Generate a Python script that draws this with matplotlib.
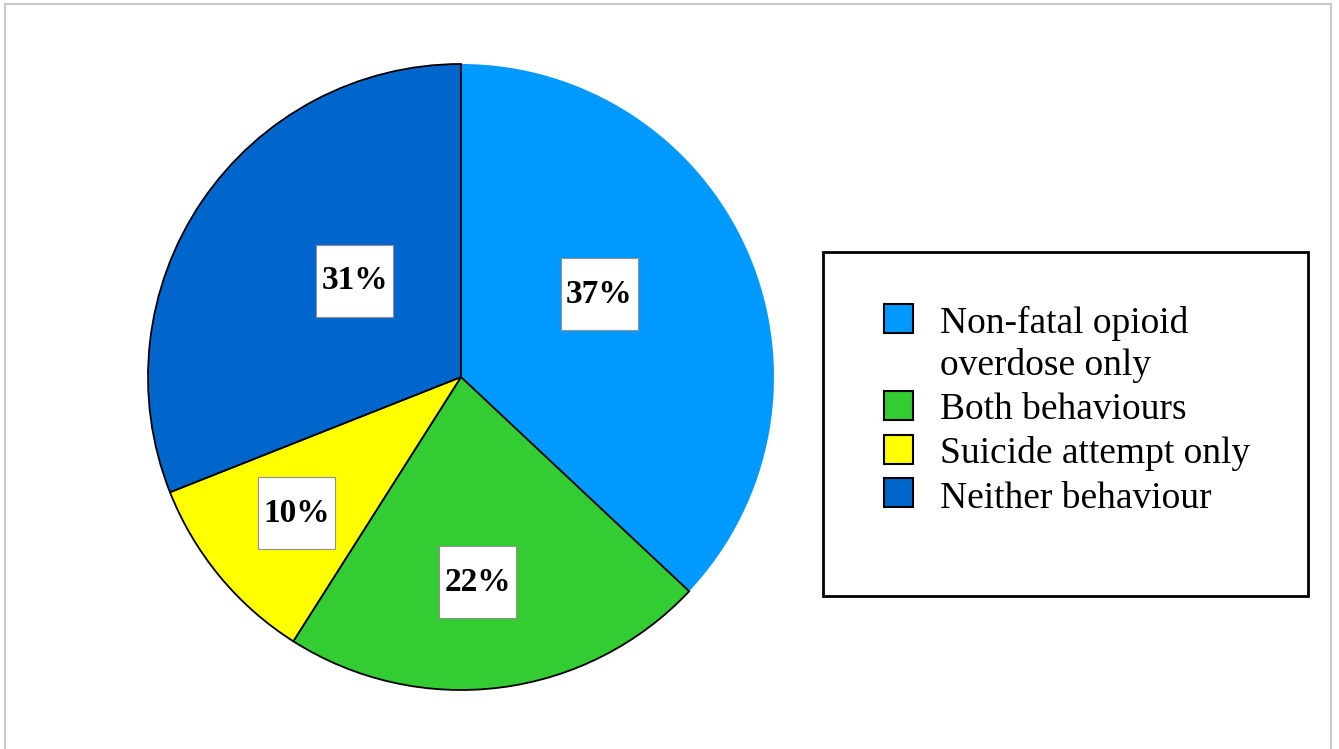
import matplotlib
matplotlib.use("Agg")
import matplotlib.pyplot as plt
from matplotlib.patches import Rectangle

categories = ["Non-fatal opioid\noverdose only", "Both behaviours",
              "Suicide attempt only", "Neither behaviour"]
values = [37, 22, 10, 31]
colors = ["#0099FF", "#33CC33", "#FFFF00", "#0066CC"]

# label box centres (data units, pie radius = 1)
label_pos = [(0.441, 0.265), (0.054, -0.655), (-0.526, -0.435), (-0.340, 0.307)]

W, H = 1339, 749
fig = plt.figure(figsize=(W / 100, H / 100), dpi=100)
fig.patch.set_facecolor("white")

# outer frame
fig.add_artist(Rectangle((5 / W, -0.01), (1331 - 5) / W, (749 - 3) / H + 0.01 - 0.001,
                         transform=fig.transFigure, fill=False,
                         edgecolor="#c8c8c8", linewidth=1.5))

cx, cy, r = 461, 377, 313
ax = fig.add_axes([(cx - r) / W, (H - cy - r) / H, 2 * r / W, 2 * r / H])
ax.set_xlim(-1, 1)
ax.set_ylim(-1, 1)
ax.axis("off")

wedges, _ = ax.pie(values, colors=colors, startangle=90, counterclock=False,
                   radius=1, frame=False,
                   wedgeprops=dict(edgecolor="black", linewidth=1.3))
wedges[0].set_edgecolor("none")
ax.set_xlim(-1, 1)
ax.set_ylim(-1, 1)

bw, bh = 77 / r, 72 / r
for v, (x, y) in zip(values, label_pos):
    ax.add_patch(Rectangle((x - bw / 2, y - bh / 2), bw, bh, facecolor="white",
                           edgecolor="#909090", linewidth=0.8, zorder=5))
    ax.text(x, y, f"{v}%", ha="center", va="center", fontsize=24,
            fontweight="bold", family="Liberation Serif", zorder=6)

# legend frame
lx0, ly0, lx1, ly1 = 823, 252, 1308, 596
fig.add_artist(Rectangle((lx0 / W, (H - ly1) / H), (lx1 - lx0) / W, (ly1 - ly0) / H,
                         transform=fig.transFigure, fill=False,
                         edgecolor="black", linewidth=2))

sq_centers = [318, 405, 449, 492]
baselines = [333, 419, 463, 508]
line_step = 42
for cat, col, sy, by in zip(categories, colors, sq_centers, baselines):
    s = 29
    fig.add_artist(Rectangle((884 / W, (H - sy - s / 2) / H), s / W, s / H,
                             transform=fig.transFigure, facecolor=col,
                             edgecolor="black", linewidth=1.5))
    for i, line in enumerate(cat.split("\n")):
        fig.text(940 / W, (H - by - i * line_step) / H, line, ha="left",
                 va="baseline", fontsize=27, family="Liberation Serif")

fig.savefig("out.png", dpi=100)
